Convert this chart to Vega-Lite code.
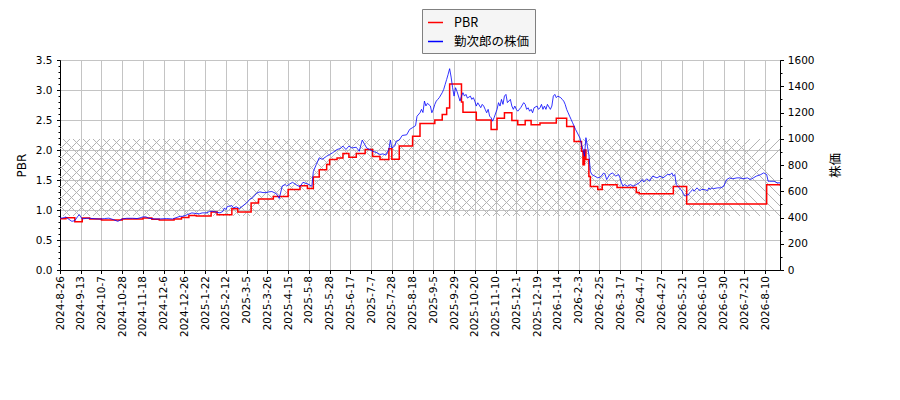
{
  "$schema": "https://vega.github.io/schema/vega-lite/v6.json",
  "width": 720,
  "height": 210,
  "autosize": {"type": "none"},
  "padding": {"left": 60, "top": 60, "right": 120, "bottom": 130},
  "background": "white",
  "config": {
    "view": {"stroke": "black", "strokeWidth": 1},
    "axis": {
      "labelFont": "DejaVu Sans", "labelFontSize": 10.5, "labelColor": "black",
      "titleFont": "DejaVu Sans", "titleFontSize": 12, "titleFontWeight": "normal", "titleColor": "black",
      "domainColor": "black", "tickColor": "black", "gridColor": "#c4c4c4", "gridWidth": 1,
      "labelOverlap": false, "labelFlush": false
    },
    "axisX": {
      "labelExpr": "['2024-8-26','2024-9-13','2024-10-7','2024-10-28','2024-11-18','2024-12-6','2024-12-26','2025-1-22','2025-2-12','2025-3-5','2025-3-26','2025-4-15','2025-5-8','2025-5-28','2025-6-17','2025-7-7','2025-7-28','2025-8-18','2025-9-5','2025-9-29','2025-10-20','2025-11-10','2025-12-1','2025-12-19','2026-1-14','2026-2-3','2026-2-25','2026-3-17','2026-4-7','2026-4-27','2026-5-21','2026-6-10','2026-6-30','2026-7-21','2026-8-10'][round(datum.value/14)]",
      "labelAngle": 270, "labelAlign": "right", "labelBaseline": "middle",
      "tickSize": 3.5, "labelPadding": 2, "grid": true, "title": null
    },
    "legend": {
      "fillColor": "#f5f5f5", "strokeColor": "#808080", "padding": 5, "rowPadding": 4,
      "symbolType": "stroke", "symbolSize": 225, "symbolStrokeWidth": 1.5,
      "labelFont": "Noto Sans CJK JP", "labelFontSize": 12.5, "labelColor": "black", "labelOffset": 10,
      "cornerRadius": 0
    }
  },
  "datasets": {
    "pbr": [
      {"day":0,"pbr":0.855},{"day":4,"pbr":0.87},{"day":10,"pbr":0.805},{"day":15,"pbr":0.865},{"day":20,"pbr":0.85},{"day":28,"pbr":0.835},{"day":42,"pbr":0.85},{"day":56,"pbr":0.865},{"day":62,"pbr":0.845},{"day":67,"pbr":0.835},{"day":77,"pbr":0.85},{"day":82,"pbr":0.875},{"day":87,"pbr":0.91},{"day":92,"pbr":0.9},{"day":102,"pbr":0.965},{"day":106,"pbr":0.92},{"day":116,"pbr":1.02},{"day":120,"pbr":0.965},{"day":129,"pbr":1.115},{"day":134,"pbr":1.185},{"day":144,"pbr":1.225},{"day":154,"pbr":1.34},{"day":162,"pbr":1.405},{"day":167,"pbr":1.36},{"day":171,"pbr":1.55},{"day":175,"pbr":1.67},{"day":180,"pbr":1.76},{"day":182,"pbr":1.84},{"day":187,"pbr":1.865},{"day":191,"pbr":1.94},{"day":195,"pbr":1.88},{"day":200,"pbr":1.94},{"day":206,"pbr":2.01},{"day":211,"pbr":1.89},{"day":216,"pbr":1.84},{"day":222,"pbr":2.02},{"day":224,"pbr":1.845},{"day":229,"pbr":2.065},{"day":238,"pbr":2.23},{"day":243,"pbr":2.44},{"day":253,"pbr":2.5},{"day":258,"pbr":2.59},{"day":261,"pbr":2.7},{"day":263,"pbr":3.1},{"day":271,"pbr":2.8},{"day":272,"pbr":2.63},{"day":281,"pbr":2.5},{"day":291,"pbr":2.34},{"day":295,"pbr":2.53},{"day":300,"pbr":2.62},{"day":305,"pbr":2.49},{"day":309,"pbr":2.42},{"day":314,"pbr":2.49},{"day":318,"pbr":2.42},{"day":324,"pbr":2.45},{"day":335,"pbr":2.53},{"day":342,"pbr":2.39},{"day":347,"pbr":2.14},{"day":352,"pbr":1.98},{"day":353,"pbr":1.755},{"day":354,"pbr":2.0},{"day":355,"pbr":1.84},{"day":357,"pbr":1.56},{"day":358,"pbr":1.39},{"day":363,"pbr":1.34},{"day":366,"pbr":1.42},{"day":376,"pbr":1.375},{"day":389,"pbr":1.29},{"day":391,"pbr":1.27},{"day":414,"pbr":1.39},{"day":423,"pbr":1.1},{"day":477,"pbr":1.42},{"day":486,"pbr":1.42}
    ],
    "price": [
      {"day":0,"price":395},{"day":2,"price":397},{"day":4,"price":404},{"day":6,"price":386},{"day":8,"price":371},{"day":10,"price":376},{"day":12,"price":409},{"day":13,"price":422},{"day":14,"price":405},{"day":15,"price":389},{"day":18,"price":394},{"day":20,"price":394},{"day":23,"price":391},{"day":27,"price":388},{"day":30,"price":392},{"day":33,"price":395},{"day":36,"price":384},{"day":39,"price":371},{"day":40,"price":376},{"day":42,"price":389},{"day":45,"price":394},{"day":49,"price":394},{"day":52,"price":392},{"day":54,"price":397},{"day":56,"price":405},{"day":58,"price":405},{"day":60,"price":394},{"day":64,"price":389},{"day":67,"price":389},{"day":72,"price":392},{"day":76,"price":389},{"day":79,"price":401},{"day":81,"price":409},{"day":83,"price":409},{"day":86,"price":422},{"day":89,"price":435},{"day":92,"price":430},{"day":94,"price":428},{"day":96,"price":435},{"day":99,"price":435},{"day":101,"price":447},{"day":103,"price":447},{"day":106,"price":440},{"day":108,"price":435},{"day":110,"price":447},{"day":111,"price":473},{"day":112,"price":460},{"day":113,"price":485},{"day":114,"price":485},{"day":116,"price":491},{"day":117,"price":473},{"day":119,"price":481},{"day":121,"price":468},{"day":123,"price":485},{"day":126,"price":511},{"day":128,"price":537},{"day":130,"price":550},{"day":133,"price":588},{"day":135,"price":595},{"day":137,"price":590},{"day":139,"price":590},{"day":141,"price":595},{"day":143,"price":598},{"day":146,"price":582},{"day":148,"price":545},{"day":150,"price":640},{"day":152,"price":651},{"day":153,"price":640},{"day":155,"price":655},{"day":157,"price":668},{"day":160,"price":645},{"day":162,"price":635},{"day":164,"price":668},{"day":166,"price":660},{"day":168,"price":651},{"day":170,"price":638},{"day":171,"price":750},{"day":173,"price":804},{"day":175,"price":855},{"day":177,"price":843},{"day":180,"price":867},{"day":182,"price":880},{"day":184,"price":893},{"day":187,"price":918},{"day":189,"price":925},{"day":191,"price":944},{"day":193,"price":918},{"day":195,"price":944},{"day":197,"price":930},{"day":200,"price":935},{"day":202,"price":905},{"day":204,"price":990},{"day":207,"price":930},{"day":209,"price":918},{"day":211,"price":905},{"day":214,"price":893},{"day":216,"price":880},{"day":218,"price":885},{"day":220,"price":875},{"day":222,"price":920},{"day":223,"price":990},{"day":224,"price":930},{"day":226,"price":945},{"day":227,"price":982},{"day":229,"price":990},{"day":231,"price":1025},{"day":234,"price":1030},{"day":236,"price":1071},{"day":238,"price":1085},{"day":240,"price":1100},{"day":241,"price":1172},{"day":243,"price":1198},{"day":244,"price":1224},{"day":245,"price":1200},{"day":246,"price":1287},{"day":247,"price":1250},{"day":248,"price":1270},{"day":250,"price":1250},{"day":251,"price":1198},{"day":252,"price":1224},{"day":253,"price":1262},{"day":254,"price":1287},{"day":255,"price":1300},{"day":256,"price":1313},{"day":258,"price":1351},{"day":259,"price":1376},{"day":260,"price":1414},{"day":261,"price":1452},{"day":262,"price":1491},{"day":263,"price":1534},{"day":264,"price":1470},{"day":265,"price":1389},{"day":266,"price":1325},{"day":267,"price":1389},{"day":268,"price":1360},{"day":270,"price":1287},{"day":271,"price":1325},{"day":272,"price":1351},{"day":273,"price":1325},{"day":274,"price":1338},{"day":275,"price":1310},{"day":277,"price":1325},{"day":278,"price":1300},{"day":279,"price":1313},{"day":280,"price":1287},{"day":281,"price":1249},{"day":282,"price":1274},{"day":284,"price":1237},{"day":285,"price":1262},{"day":286,"price":1249},{"day":287,"price":1224},{"day":288,"price":1198},{"day":289,"price":1224},{"day":290,"price":1172},{"day":291,"price":1160},{"day":292,"price":1134},{"day":293,"price":1160},{"day":295,"price":1224},{"day":296,"price":1275},{"day":297,"price":1249},{"day":298,"price":1300},{"day":299,"price":1262},{"day":300,"price":1325},{"day":301,"price":1338},{"day":302,"price":1275},{"day":304,"price":1300},{"day":305,"price":1249},{"day":306,"price":1224},{"day":307,"price":1249},{"day":308,"price":1224},{"day":309,"price":1210},{"day":311,"price":1237},{"day":313,"price":1275},{"day":314,"price":1262},{"day":315,"price":1224},{"day":316,"price":1236},{"day":317,"price":1210},{"day":318,"price":1224},{"day":319,"price":1198},{"day":320,"price":1236},{"day":322,"price":1249},{"day":323,"price":1224},{"day":324,"price":1236},{"day":325,"price":1262},{"day":326,"price":1224},{"day":327,"price":1249},{"day":328,"price":1224},{"day":329,"price":1262},{"day":331,"price":1224},{"day":332,"price":1249},{"day":333,"price":1325},{"day":334,"price":1338},{"day":335,"price":1313},{"day":336,"price":1325},{"day":338,"price":1313},{"day":339,"price":1300},{"day":340,"price":1287},{"day":341,"price":1262},{"day":342,"price":1224},{"day":343,"price":1198},{"day":344,"price":1172},{"day":345,"price":1147},{"day":346,"price":1122},{"day":347,"price":1096},{"day":348,"price":1071},{"day":351,"price":1005},{"day":352,"price":956},{"day":353,"price":918},{"day":354,"price":867},{"day":355,"price":1008},{"day":356,"price":943},{"day":357,"price":880},{"day":358,"price":752},{"day":359,"price":727},{"day":361,"price":715},{"day":363,"price":702},{"day":365,"price":710},{"day":367,"price":740},{"day":368,"price":727},{"day":369,"price":689},{"day":371,"price":727},{"day":373,"price":740},{"day":375,"price":715},{"day":377,"price":727},{"day":378,"price":702},{"day":379,"price":664},{"day":380,"price":638},{"day":381,"price":651},{"day":383,"price":638},{"day":385,"price":651},{"day":387,"price":638},{"day":389,"price":651},{"day":391,"price":664},{"day":393,"price":689},{"day":394,"price":670},{"day":396,"price":695},{"day":398,"price":677},{"day":400,"price":715},{"day":403,"price":702},{"day":405,"price":715},{"day":407,"price":702},{"day":410,"price":727},{"day":412,"price":727},{"day":413,"price":740},{"day":414,"price":715},{"day":415,"price":727},{"day":416,"price":651},{"day":417,"price":638},{"day":418,"price":626},{"day":419,"price":613},{"day":420,"price":600},{"day":421,"price":575},{"day":422,"price":562},{"day":423,"price":575},{"day":424,"price":570},{"day":425,"price":588},{"day":426,"price":600},{"day":427,"price":613},{"day":428,"price":600},{"day":430,"price":626},{"day":431,"price":613},{"day":432,"price":605},{"day":433,"price":613},{"day":435,"price":613},{"day":437,"price":605},{"day":438,"price":626},{"day":439,"price":613},{"day":440,"price":626},{"day":441,"price":620},{"day":444,"price":626},{"day":446,"price":626},{"day":448,"price":638},{"day":449,"price":664},{"day":450,"price":689},{"day":452,"price":702},{"day":454,"price":695},{"day":457,"price":702},{"day":459,"price":702},{"day":461,"price":695},{"day":464,"price":702},{"day":466,"price":689},{"day":468,"price":702},{"day":470,"price":715},{"day":473,"price":727},{"day":475,"price":740},{"day":477,"price":727},{"day":478,"price":676},{"day":479,"price":676},{"day":482,"price":676},{"day":484,"price":664},{"day":486,"price":664}
    ]
  },
  "layer": [
    {
      "data": {"values": [{"band": "range"}]},
      "mark": {
        "type": "point",
        "shape": "M-437,-38.5l77,77m-67,-77l77,77m-67,-77l77,77m-67,-77l77,77m-67,-77l77,77m-67,-77l77,77m-67,-77l77,77m-67,-77l77,77m-67,-77l77,77m-67,-77l77,77m-67,-77l77,77m-67,-77l77,77m-67,-77l77,77m-67,-77l77,77m-67,-77l77,77m-67,-77l77,77m-67,-77l77,77m-67,-77l77,77m-67,-77l77,77m-67,-77l77,77m-67,-77l77,77m-67,-77l77,77m-67,-77l77,77m-67,-77l77,77m-67,-77l77,77m-67,-77l77,77m-67,-77l77,77m-67,-77l77,77m-67,-77l77,77m-67,-77l77,77m-67,-77l77,77m-67,-77l77,77m-67,-77l77,77m-67,-77l77,77m-67,-77l77,77m-67,-77l77,77m-67,-77l77,77m-67,-77l77,77m-67,-77l77,77m-67,-77l77,77m-67,-77l77,77m-67,-77l77,77m-67,-77l77,77m-67,-77l77,77m-67,-77l77,77m-67,-77l77,77m-67,-77l77,77m-67,-77l77,77m-67,-77l77,77m-67,-77l77,77m-67,-77l77,77m-67,-77l77,77m-67,-77l77,77m-67,-77l77,77m-67,-77l77,77m-67,-77l77,77m-67,-77l77,77m-67,-77l77,77m-67,-77l77,77m-67,-77l77,77m-67,-77l77,77m-67,-77l77,77m-67,-77l77,77m-67,-77l77,77m-67,-77l77,77m-67,-77l77,77m-67,-77l77,77m-67,-77l77,77m-67,-77l77,77m-67,-77l77,77m-67,-77l77,77m-67,-77l77,77m-67,-77l77,77m-67,-77l77,77m-67,-77l77,77m-67,-77l77,77m-67,-77M-437,38.5l77,-77m-67,77l77,-77m-67,77l77,-77m-67,77l77,-77m-67,77l77,-77m-67,77l77,-77m-67,77l77,-77m-67,77l77,-77m-67,77l77,-77m-67,77l77,-77m-67,77l77,-77m-67,77l77,-77m-67,77l77,-77m-67,77l77,-77m-67,77l77,-77m-67,77l77,-77m-67,77l77,-77m-67,77l77,-77m-67,77l77,-77m-67,77l77,-77m-67,77l77,-77m-67,77l77,-77m-67,77l77,-77m-67,77l77,-77m-67,77l77,-77m-67,77l77,-77m-67,77l77,-77m-67,77l77,-77m-67,77l77,-77m-67,77l77,-77m-67,77l77,-77m-67,77l77,-77m-67,77l77,-77m-67,77l77,-77m-67,77l77,-77m-67,77l77,-77m-67,77l77,-77m-67,77l77,-77m-67,77l77,-77m-67,77l77,-77m-67,77l77,-77m-67,77l77,-77m-67,77l77,-77m-67,77l77,-77m-67,77l77,-77m-67,77l77,-77m-67,77l77,-77m-67,77l77,-77m-67,77l77,-77m-67,77l77,-77m-67,77l77,-77m-67,77l77,-77m-67,77l77,-77m-67,77l77,-77m-67,77l77,-77m-67,77l77,-77m-67,77l77,-77m-67,77l77,-77m-67,77l77,-77m-67,77l77,-77m-67,77l77,-77m-67,77l77,-77m-67,77l77,-77m-67,77l77,-77m-67,77l77,-77m-67,77l77,-77m-67,77l77,-77m-67,77l77,-77m-67,77l77,-77m-67,77l77,-77m-67,77l77,-77m-67,77l77,-77m-67,77l77,-77m-67,77l77,-77m-67,77",
        "size": 4,
        "filled": false,
        "color": "#b4b4b4",
        "strokeWidth": 1,
        "opacity": 1,
        "clip": true
      },
      "encoding": {
        "x": {"datum": 243, "type": "quantitative", "scale": {"domain": [0, 486], "nice": false, "zero": false}, "axis": {"values": [0,14,28,42,56,70,84,98,112,126,140,154,168,182,196,210,224,238,252,266,280,294,308,322,336,350,364,378,392,406,420,434,448,462,476]}},
        "y": {"datum": 1.5417, "type": "quantitative", "scale": {"domain": [0, 3.5], "nice": false, "zero": false}, "axis": null}
      }
    },
    {
      "data": {"name": "pbr"},
      "mark": {"type": "line", "interpolate": "step-after", "strokeWidth": 1.5, "clip": true},
      "encoding": {
        "x": {"field": "day", "type": "quantitative", "scale": {"domain": [0, 486], "nice": false, "zero": false}, "axis": {"values": [0,14,28,42,56,70,84,98,112,126,140,154,168,182,196,210,224,238,252,266,280,294,308,322,336,350,364,378,392,406,420,434,448,462,476]}},
        "y": {
          "field": "pbr", "type": "quantitative",
          "scale": {"domain": [0, 3.5], "nice": false, "zero": false},
          "axis": {
            "orient": "left", "title": "PBR", "titlePadding": 7,
            "values": [0,0.1,0.2,0.3,0.4,0.5,0.6,0.7,0.8,0.9,1,1.1,1.2,1.3,1.4,1.5,1.6,1.7,1.8,1.9,2,2.1,2.2,2.3,2.4,2.5,2.6,2.7,2.8,2.9,3,3.1,3.2,3.3,3.4,3.5],
            "labelExpr": "abs(datum.value*2-round(datum.value*2))<0.001 ? format(datum.value,'.1f') : ''",
            "tickSize": {"condition": {"test": "abs(datum.value*2-round(datum.value*2))<0.001", "value": 3.5}, "value": 2},
            "labelPadding": 4.5,
            "grid": true,
            "gridOpacity": {"condition": {"test": "abs(datum.value*2-round(datum.value*2))<0.001", "value": 1}, "value": 0}
          }
        },
        "color": {
          "datum": "PBR", "type": "nominal",
          "scale": {"domain": ["PBR", "勤次郎の株価"], "range": ["#ff0000", "#0000ff"]},
          "legend": {"orient": "none", "legendX": 362, "legendY": -51, "title": null}
        }
      }
    },
    {
      "data": {"name": "price"},
      "mark": {"type": "line", "strokeWidth": 0.8, "clip": true},
      "encoding": {
        "x": {"field": "day", "type": "quantitative", "scale": {"domain": [0, 486], "nice": false, "zero": false}, "axis": {"values": [0,14,28,42,56,70,84,98,112,126,140,154,168,182,196,210,224,238,252,266,280,294,308,322,336,350,364,378,392,406,420,434,448,462,476]}},
        "y": {
          "field": "price", "type": "quantitative",
          "scale": {"domain": [0, 1600], "nice": false, "zero": false},
          "axis": {
            "orient": "right", "title": "株価", "titleFont": "Noto Sans CJK JP", "titleFontSize": 12.5,
            "titleAngle": 270, "titleBaseline": "top", "titlePadding": 15,
            "values": [0,100,200,300,400,500,600,700,800,900,1000,1100,1200,1300,1400,1500,1600],
            "labelExpr": "datum.value % 200 === 0 ? format(datum.value,'d') : ''",
            "tickSize": {"condition": {"test": "datum.value % 200 === 0", "value": 3.5}, "value": 2},
            "labelPadding": 3.8,
            "grid": false
          }
        },
        "color": {"datum": "勤次郎の株価", "type": "nominal"}
      }
    }
  ],
  "resolve": {"scale": {"y": "independent"}}
}
